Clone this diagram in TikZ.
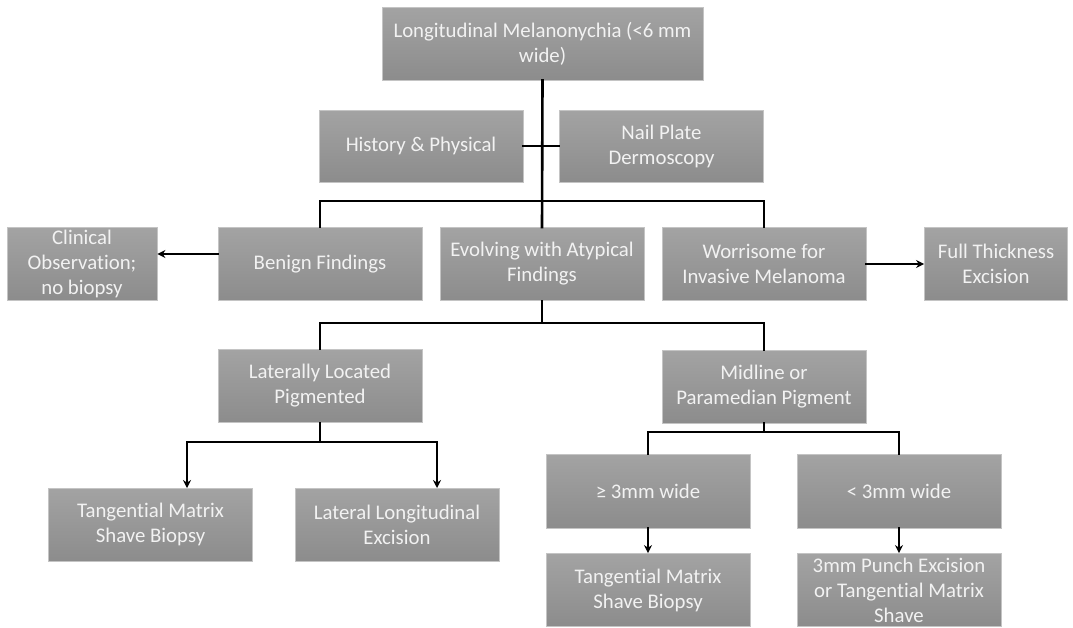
\documentclass[tikz,border=0pt]{standalone}
\usepackage{fontspec}
\setmainfont{Carlito}[Ligatures=NoCommon]
\usetikzlibrary{arrows.meta}
\definecolor{boxtop}{HTML}{A3A3A3}
\definecolor{boxbot}{HTML}{8C8C8C}
\definecolor{boxedge}{HTML}{C4C4C4}
\definecolor{boxtext}{HTML}{F2F2F2}
\begin{document}
\begin{tikzpicture}[x=1pt,y=-1pt,
  flowbox/.style={rectangle, draw=boxedge, line width=0.8pt,
    top color=boxtop, bottom color=boxbot,
    text=boxtext, align=center, inner sep=0pt,
    minimum width=204pt, minimum height=73pt,
    font=\fontsize{20.8pt}{25pt}\selectfont},
  link/.style={line width=2.6pt, line cap=rect},
  arrowlink/.style={link, -{Stealth[length=8pt,width=8pt]}}]
\useasboundingbox (0,0) rectangle (1073,627);

% boxes
\node[flowbox, minimum width=321pt] (top) at (542.5,43.5) {Longitudinal Melanonychia (<6 mm\\wide)};
\node[flowbox, minimum height=72pt] (hp) at (421,146) {History \& Physical};
\node[flowbox, minimum height=72pt] (np) at (661.5,146) {Nail Plate\\Dermoscopy};

\node[flowbox, minimum width=150pt] (clin) at (82,264) {Clinical\\Observation;\\no biopsy};
\node[flowbox] (ben) at (320,264) {Benign Findings};
\node[flowbox] (evo) at (542,264) {Evolving with Atypical\\Findings};
\node[flowbox] (wor) at (764,264) {Worrisome for\\Invasive Melanoma};
\node[flowbox, minimum width=143pt] (full) at (996,264) {Full Thickness\\Excision};

\node[flowbox] (lat) at (320,386) {Laterally Located\\Pigmented};
\node[flowbox] (mid) at (764,386.5) {Midline or\\Paramedian Pigment};

\node[flowbox] (tl) at (150.5,524.5) {Tangential Matrix\\Shave Biopsy};
\node[flowbox] (lle) at (397,524.5) {Lateral Longitudinal\\Excision};

\node[flowbox, minimum height=74pt] (ge) at (648,491) {≥ 3mm wide};
\node[flowbox, minimum height=74pt] (lt) at (899,491) {< 3mm wide};
\node[flowbox] (tr) at (648,590) {Tangential Matrix\\Shave Biopsy};
\node[flowbox] (pu) at (899,590) {3mm Punch Excision\\or Tangential Matrix\\Shave};

% bus levels
\coordinate (busA) at (0,201);
\coordinate (busB) at (0,323);
\coordinate (busC) at (0,442);
\coordinate (busD) at (0,432);
\coordinate (tlin) at (187,488);
\coordinate (llein) at (437,488);

% connectors
\draw[link] (top.south) -- (evo.north);
\draw[link] (hp.east) -- (np.west);
\draw[link] (ben.north) -- (ben.north |- busA) -- (wor.north |- busA) -- (wor.north);
\draw[arrowlink] ([yshift=10pt]ben.west) -- ([yshift=10pt]clin.east);
\draw[arrowlink] (wor.east) -- (full.west);

\draw[link] (evo.south) -- (evo.south |- busB);
\draw[link] (lat.north) -- (lat.north |- busB) -- (mid.north |- busB) -- (mid.north);

\draw[link] (lat.south) -- (lat.south |- busC);
\draw[arrowlink] (tlin |- busC) -- (llein |- busC) -- (llein);
\draw[arrowlink] (llein |- busC) -- (tlin |- busC) -- (tlin);

\draw[link] (mid.south) -- (mid.south |- busD);
\draw[link] (ge.north) -- (ge.north |- busD) -- (lt.north |- busD) -- (lt.north);

\draw[arrowlink] (ge.south) -- (tr.north);
\draw[arrowlink] (lt.south) -- (pu.north);
\end{tikzpicture}
\end{document}
